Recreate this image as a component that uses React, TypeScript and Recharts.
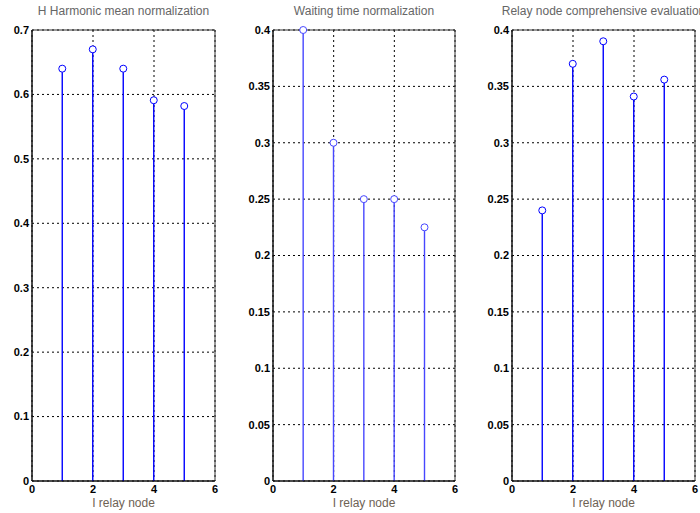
import {
  ComposedChart,
  Bar,
  XAxis,
  YAxis,
  CartesianGrid,
  ReferenceArea,
} from "recharts";

// relay node index
const nodes = [1, 2, 3, 4, 5];

const harmonicMean = [0.64, 0.67, 0.64, 0.591, 0.582];
const waitingTime = [0.4, 0.3, 0.25, 0.25, 0.225];
const comprehensive = [0.24, 0.37, 0.39, 0.341, 0.356];

const xTicks = [0, 2, 4, 6];
const yTicksA = [0, 0.1, 0.2, 0.3, 0.4, 0.5, 0.6, 0.7];
const yTicksB = [0, 0.05, 0.1, 0.15, 0.2, 0.25, 0.3, 0.35, 0.4];

const titles = [
  "H Harmonic mean normalization",
  "Waiting time normalization",
  "Relay node comprehensive evaluation",
];

const H = 513;
const tickFont = {
  fill: "#000",
  fontSize: 11,
  fontWeight: 700,
  fontFamily: "Liberation Sans, Arial, sans-serif",
};

// eslint-disable-next-line @typescript-eslint/no-explicit-any
const stemShape = (color: string) => (props: any) => {
  const { x, y, width, height } = props;
  if (x == null || y == null) return <g />;
  const cx = x + width / 2;
  return (
    <g>
      <line
        x1={cx}
        x2={cx}
        y1={y}
        y2={y + height}
        stroke={color}
        strokeWidth={1.4}
      />
      <circle cx={cx} cy={y} r={3.5} fill="#fff" stroke={color} strokeWidth={1} />
    </g>
  );
};

type PanelProps = {
  left: number;
  width: number;
  marginLeft: number;
  marginRight: number;
  values: number[];
  yTicks: number[];
  title: string;
  color: string;
};

function Panel({ left, width, marginLeft, marginRight, values, yTicks, title, color }: PanelProps) {
  const data = nodes.map((n, i) => ({ node: n, value: values[i] }));
  const yMax = yTicks[yTicks.length - 1];
  const plotLeft = marginLeft + 30;
  const plotWidth = width - plotLeft - marginRight;
  return (
    <div style={{ position: "absolute", left, top: 0, width, height: H }}>
      <div
        style={{
          position: "absolute",
          top: 4,
          left: plotLeft - 100,
          width: plotWidth + 200,
          textAlign: "center",
          whiteSpace: "nowrap",
          fontFamily: "Liberation Sans, Arial, sans-serif",
          fontSize: 12,
          lineHeight: "14px",
          color: "#666",
        }}
      >
        {title}
      </div>
      <ComposedChart
        width={width}
        height={H}
        data={data}
        margin={{ top: 30, right: marginRight, bottom: 0, left: marginLeft }}
      >
        <CartesianGrid stroke="#000" strokeDasharray="2 3" />
        <XAxis
          dataKey="node"
          type="number"
          domain={[0, 6]}
          ticks={xTicks}
          interval={0}
          height={32}
          tickSize={0}
          tickMargin={4}
          axisLine={{ stroke: "#000" }}
          tick={tickFont}
          label={{
            value: "I relay node",
            position: "insideBottom",
            offset: 6,
            fill: "#6e6254",
            fontSize: 12,
            fontFamily: "Liberation Sans, Arial, sans-serif",
          }}
        />
        <YAxis
          type="number"
          domain={[0, yMax]}
          ticks={yTicks}
          interval={0}
          width={30}
          tickSize={0}
          tickMargin={3}
          axisLine={{ stroke: "#000" }}
          tick={tickFont}
        />
        <ReferenceArea x1={0} x2={6} y1={0} y2={yMax} fill="none" stroke="#333" />
        <Bar
          dataKey="value"
          barSize={2}
          isAnimationActive={false}
          shape={stemShape(color)}
        />
      </ComposedChart>
    </div>
  );
}

export default function App() {
  return (
    <div
      style={{
        position: "absolute",
        left: 0,
        top: 0,
        width: 700,
        height: H,
        background: "#fff",
        overflow: "hidden",
      }}
    >
      <Panel left={0} width={240} marginLeft={2} marginRight={25} values={harmonicMean} yTicks={yTicksA} title={titles[0]} color="#0000ff" />
      <Panel left={240} width={230} marginLeft={3} marginRight={15} values={waitingTime} yTicks={yTicksB} title={titles[1]} color="#4646ff" />
      <Panel left={470} width={230} marginLeft={12} marginRight={5} values={comprehensive} yTicks={yTicksB} title={titles[2]} color="#0000ff" />
    </div>
  );
}
